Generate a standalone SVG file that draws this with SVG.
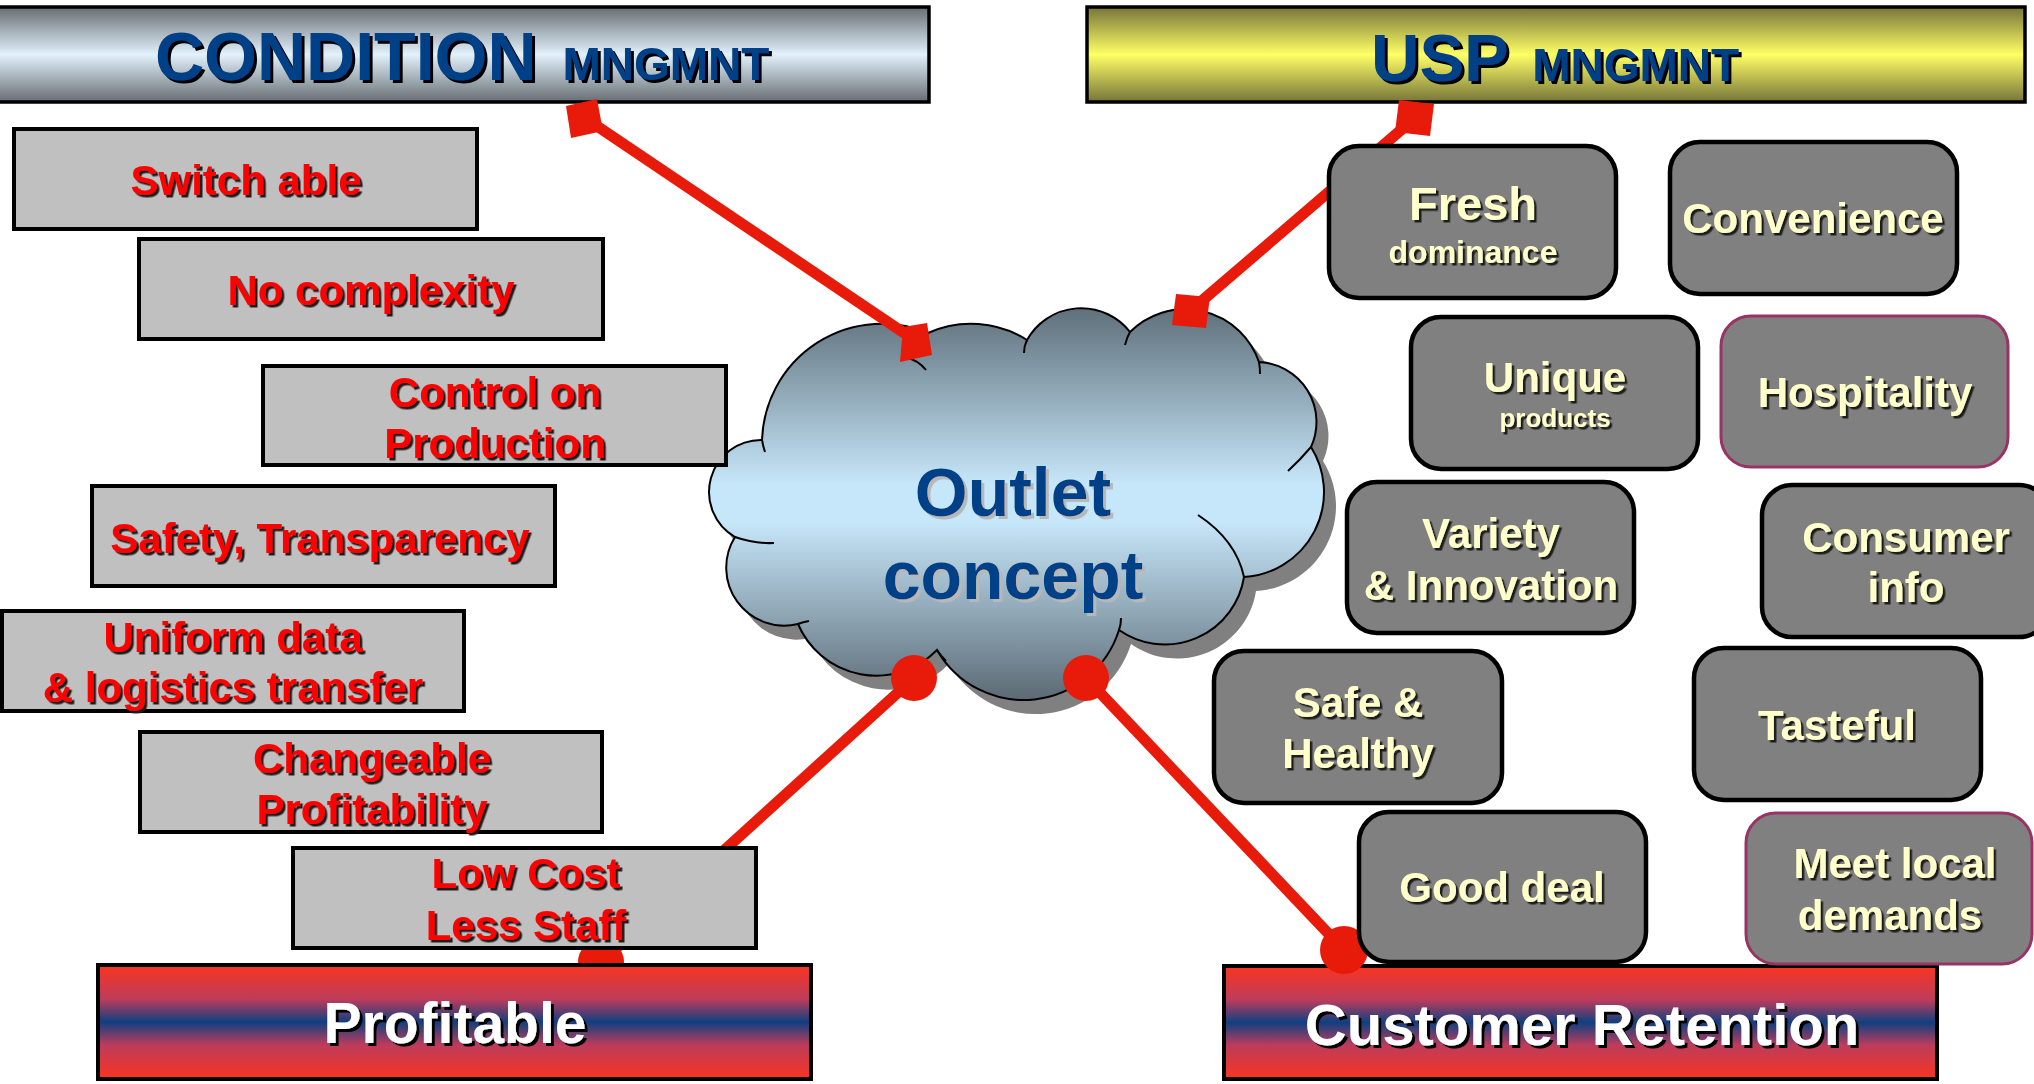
<svg xmlns="http://www.w3.org/2000/svg" width="2034" height="1084" viewBox="0 0 2034 1084">
<defs>
<linearGradient id="gCond" x1="0" y1="0" x2="0" y2="1">
<stop offset="0" stop-color="#676d73"/><stop offset="0.5" stop-color="#e2f1fb"/><stop offset="1" stop-color="#676d73"/>
</linearGradient>
<linearGradient id="gUsp" x1="0" y1="0" x2="0" y2="1">
<stop offset="0" stop-color="#76743a"/><stop offset="0.5" stop-color="#ffff66"/><stop offset="1" stop-color="#76743a"/>
</linearGradient>
<linearGradient id="gBar" x1="0" y1="0" x2="0" y2="1">
<stop offset="0" stop-color="#f9341f"/><stop offset="0.3" stop-color="#bd3c5c"/><stop offset="0.5" stop-color="#0f3f80"/><stop offset="0.7" stop-color="#bd3c5c"/><stop offset="1" stop-color="#f9341f"/>
</linearGradient>
<linearGradient id="gCloud" gradientUnits="userSpaceOnUse" x1="0" y1="309" x2="0" y2="697">
<stop offset="0" stop-color="#5f707b"/><stop offset="0.45" stop-color="#c6e6f9"/><stop offset="0.55" stop-color="#c6e6f9"/><stop offset="1" stop-color="#5d6c77"/>
</linearGradient>
<filter id="shDark" x="-5%" y="-10%" width="115%" height="130%">
<feDropShadow dx="2.5" dy="2.5" stdDeviation="0.3" flood-color="#1a1a1a" flood-opacity="1"/>
</filter>
<filter id="shTitle" x="-5%" y="-10%" width="115%" height="130%">
<feDropShadow dx="3" dy="3" stdDeviation="0.3" flood-color="#000" flood-opacity="1"/>
</filter>
<filter id="shLight" x="-5%" y="-10%" width="115%" height="130%">
<feDropShadow dx="3" dy="3" stdDeviation="0.3" flood-color="#b8b8b8" flood-opacity="1"/>
</filter>
<path id="cloudPath" d="M762,440 A120,120 0 0,1 928,333 A105,105 0 0,1 1027,340 A62,62 0 0,1 1130,332 A78,78 0 0,1 1259,362 A60,60 0 0,1 1311,447 A85,85 0 0,1 1244,577 A80,80 0 0,1 1119,630 A100,100 0 0,1 937,650 A85,85 0 0,1 798,624 A58,58 0 0,1 735,537 A52,52 0 0,1 762,440 Z"/>
</defs>
<style>
text{font-family:"Liberation Sans",Arial,sans-serif;font-weight:bold;}
.title{fill:#003f87;filter:url(#shTitle);}
.lbox{fill:#c0c0c0;stroke:#000;stroke-width:4;}
.ltxt{fill:#ff0000;font-size:42px;text-anchor:middle;filter:url(#shDark);}
.rbox{fill:#808080;stroke:#000;stroke-width:4.5;}
.rbox.p{stroke:#993366;stroke-width:3;}
.rtxt{fill:#ffffcc;font-size:42px;text-anchor:middle;filter:url(#shDark);}
.bar{fill:url(#gBar);stroke:#000;stroke-width:4;}
.btxt{fill:#ffffff;font-size:58px;text-anchor:middle;filter:url(#shTitle);}
.conn{stroke:#e81a0a;stroke-width:11;fill:none;}
.end{fill:#e81a0a;}
.inner{fill:none;stroke:#000;stroke-width:2;}
</style>

<g id="condition-mngmnt">
<rect x="-4" y="7" width="933" height="95" fill="url(#gCond)" stroke="#000" stroke-width="3.5"/>
<text class="title" x="155" y="80" style="font-size:68px">CONDITION <tspan style="font-size:46px" dx="7">MNGMNT</tspan></text>
</g>

<g id="usp-mngmnt">
<rect x="1087" y="7" width="938" height="95" fill="url(#gUsp)" stroke="#000" stroke-width="3.5"/>
<text class="title" x="1371" y="81" style="font-size:67px">USP <tspan style="font-size:46px" dx="6">MNGMNT</tspan></text>
</g>

<g id="outlet-concept">
<use href="#cloudPath" transform="translate(12,14)" fill="#808080"/>
<use href="#cloudPath" fill="url(#gCloud)" stroke="#000" stroke-width="2"/>
<path class="inner" d="M905,357 Q918,360 926,370 M1027,340 Q1024,346 1024,353 M1130,332 Q1127,337 1125,345 M1259,362 Q1260,367 1260,374 M1311,447 Q1300,460 1288,471 M1198,515 Q1236,540 1244,577 M1119,630 Q1121,625 1121,618 M937,650 Q941,656 946,661 M798,624 Q803,622 809,621 M735,537 Q755,544 774,543 M762,440 Q763,446 765,452"/>
<text x="1013" y="516" style="font-size:68px" text-anchor="middle" fill="#003f87" filter="url(#shLight)">Outlet</text>
<text x="1013" y="599" style="font-size:68px" text-anchor="middle" fill="#003f87" filter="url(#shLight)">concept</text>
</g>

<g id="customer-retention">
<rect class="bar" x="1224" y="966" width="713" height="113"/>
<text class="btxt" x="1582" y="1045">Customer Retention</text>
</g>

<g id="connectors">
<line class="conn" x1="585" y1="118" x2="916" y2="341"/>
<polygon class="end" points="566,106 597,99 603,131 571,138"/>
<polygon class="end" points="903,327 927,323 932,355 900,362"/>
<line class="conn" x1="1415" y1="118" x2="1190" y2="311"/>
<polygon class="end" points="1399,100 1434,104 1430,136 1395,132"/>
<polygon class="end" points="1176,294 1210,297 1206,328 1172,325"/>
<line class="conn" x1="914" y1="678" x2="601" y2="962"/>
<circle class="end" cx="914" cy="678" r="23"/>
<circle class="end" cx="601" cy="962" r="23"/>
<line class="conn" x1="1086" y1="678" x2="1344" y2="950"/>
<circle class="end" cx="1086" cy="678" r="23"/>
<circle class="end" cx="1344" cy="950" r="24"/>
</g>

<g id="switch-able"><rect class="lbox" x="14" y="129" width="463" height="100"/><text class="ltxt" x="246" y="195">Switch able</text></g>
<g id="no-complexity"><rect class="lbox" x="139" y="239" width="464" height="100"/><text class="ltxt" x="371" y="305">No complexity</text></g>
<g id="control-production"><rect class="lbox" x="263" y="366" width="463" height="99"/><text class="ltxt" x="495" y="407">Control on</text><text class="ltxt" x="495" y="458">Production</text></g>
<g id="safety-transparency"><rect class="lbox" x="92" y="486" width="463" height="100"/><text class="ltxt" x="320" y="553">Safety, Transparency</text></g>
<g id="uniform-data"><rect class="lbox" x="2" y="611" width="462" height="100"/><text class="ltxt" x="233" y="652">Uniform data</text><text class="ltxt" x="233" y="702">&amp; logistics transfer</text></g>
<g id="changeable-profitability"><rect class="lbox" x="140" y="732" width="462" height="100"/><text class="ltxt" x="372" y="773">Changeable</text><text class="ltxt" x="372" y="824">Profitability</text></g>
<g id="low-cost"><rect class="lbox" x="293" y="848" width="463" height="100"/><text class="ltxt" x="526" y="888">Low Cost</text><text class="ltxt" x="526" y="940">Less Staff</text></g>

<g id="profitable">
<rect class="bar" x="98" y="965" width="713" height="114"/>
<text class="btxt" x="455" y="1043" style="font-size:57px">Profitable</text>
</g>

<g id="fresh"><rect class="rbox" x="1329" y="146" width="287" height="152" rx="30"/><text class="rtxt" x="1473" y="220" style="font-size:47px">Fresh</text><text class="rtxt" x="1473" y="263" style="font-size:32px">dominance</text></g>
<g id="convenience"><rect class="rbox" x="1670" y="142" width="287" height="152" rx="30"/><text class="rtxt" x="1813" y="233">Convenience</text></g>
<g id="unique"><rect class="rbox" x="1411" y="317" width="287" height="152" rx="30"/><text class="rtxt" x="1555" y="392">Unique</text><text class="rtxt" x="1555" y="427" style="font-size:26px">products</text></g>
<g id="hospitality"><rect class="rbox p" x="1721" y="316" width="287" height="151" rx="30"/><text class="rtxt" x="1865" y="407">Hospitality</text></g>
<g id="variety"><rect class="rbox" x="1347" y="482" width="287" height="151" rx="30"/><text class="rtxt" x="1491" y="548">Variety</text><text class="rtxt" x="1491" y="600">&amp; Innovation</text></g>
<g id="consumer-info"><rect class="rbox" x="1762" y="485" width="287" height="152" rx="30"/><text class="rtxt" x="1906" y="552">Consumer</text><text class="rtxt" x="1906" y="602">info</text></g>
<g id="safe-healthy"><rect class="rbox" x="1214" y="651" width="288" height="152" rx="30"/><text class="rtxt" x="1358" y="717">Safe &amp;</text><text class="rtxt" x="1358" y="768">Healthy</text></g>
<g id="tasteful"><rect class="rbox" x="1694" y="648" width="287" height="152" rx="30"/><text class="rtxt" x="1837" y="740">Tasteful</text></g>
<g id="good-deal"><rect class="rbox" x="1359" y="812" width="287" height="150" rx="30"/><text class="rtxt" x="1502" y="902">Good deal</text></g>
<g id="meet-local"><rect class="rbox p" x="1746" y="813" width="286" height="151" rx="30"/><text class="rtxt" x="1895" y="878">Meet local</text><text class="rtxt" x="1890" y="930">demands</text></g>
</svg>
